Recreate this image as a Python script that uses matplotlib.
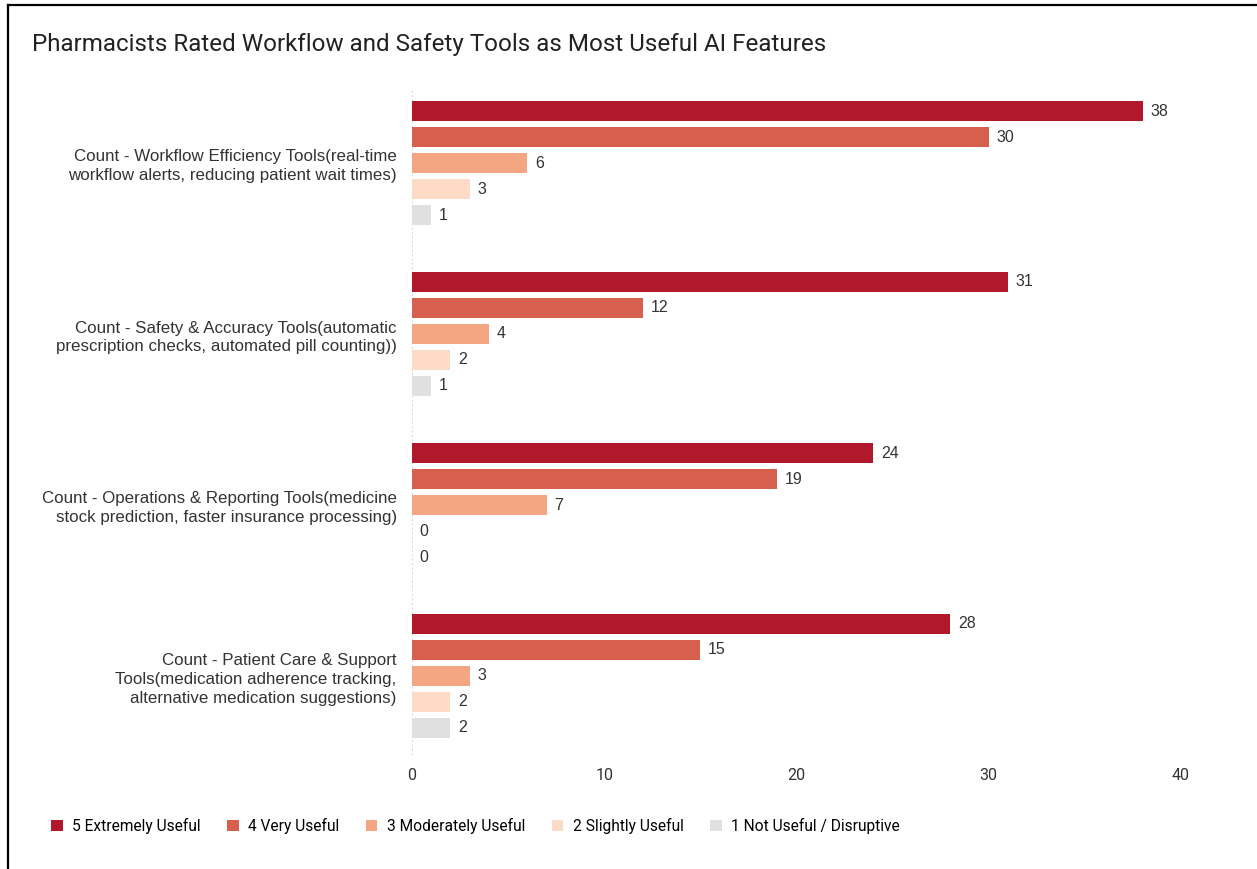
import numpy as np
import matplotlib.pyplot as plt
from matplotlib.patches import Patch
from matplotlib.lines import Line2D

categories = [
    "Count - Workflow Efficiency Tools(real-time\nworkflow alerts, reducing patient wait times)",
    "Count - Safety & Accuracy Tools(automatic\nprescription checks, automated pill counting))",
    "Count - Operations & Reporting Tools(medicine\nstock prediction, faster insurance processing)",
    "Count - Patient Care & Support\nTools(medication adherence tracking,\nalternative medication suggestions)",
]
series = ["5 Extremely Useful", "4 Very Useful", "3 Moderately Useful",
          "2 Slightly Useful", "1 Not Useful / Disruptive"]
extremely = [38, 31, 24, 28]
very = [30, 12, 19, 15]
moderately = [6, 4, 7, 3]
slightly = [3, 2, 0, 2]
not_useful = [1, 1, 0, 2]
values = [extremely, very, moderately, slightly, not_useful]
colors = ["#B2182B", "#D6604D", "#F4A582", "#FDDBC7", "#E0E0E0"]

W, H = 1257, 869
fig = plt.figure(figsize=(W / 100, H / 100), dpi=100)
ax = fig.add_axes([412 / W, 1 - 755 / H, (1181 - 412) / W, (755 - 90) / H])

group_gap = 171 / 26
for k, vals in enumerate(values):
    ys = np.arange(len(categories)) * group_gap + k
    ax.barh(ys, vals, height=20 / 26, color=colors[k], zorder=2)
    for y, v in zip(ys, vals):
        ax.text(v + 0.4, y, str(v), va="center", ha="left",
                fontsize=11.5, color="#333333", family="Liberation Sans")

centers = np.arange(len(categories)) * group_gap + 2
ax.set_yticks(centers)
ax.set_yticklabels(categories, family="Liberation Sans", fontsize=12.2,
                   color="#333333", linespacing=1.32)
ax.set_ylim(centers[-1] + 2 + 27 / 26, -21 / 26)
ax.set_xlim(0, 40)
ax.set_xticks([0, 10, 20, 30, 40])
ax.tick_params(axis="both", length=0)
ax.tick_params(axis="y", pad=11)
ax.tick_params(axis="x", pad=9, labelsize=11.5, labelcolor="#333333")
for lab in ax.get_xticklabels():
    lab.set_family("Roboto")
for s in ax.spines.values():
    s.set_visible(False)
ax.axvline(0, color="#c8c8c8", linestyle=":", linewidth=1.2, zorder=1)

fig.text(32 / W, 1 - 45 / H, "Pharmacists Rated Workflow and Safety Tools as Most Useful AI Features",
         fontsize=17.4, family="Roboto", color="#222222", va="center", ha="left")

handles = [Patch(facecolor=c, edgecolor="none") for c in colors]
fig.legend(handles, series, loc="center left", bbox_to_anchor=(37 / W, 1 - 826 / H),
           ncol=5, frameon=False, handlelength=0.75, handleheight=0.75,
           handletextpad=0.6, columnspacing=1.7,
           prop={"family": "Roboto", "size": 11.2})

# frame lines of the screenshot
fig.add_artist(Line2D([7.5 / W, 1], [1 - 5 / H, 1 - 5 / H], color="black", linewidth=1.6))
fig.add_artist(Line2D([7.5 / W, 7.5 / W], [0, 1 - 5 / H], color="black", linewidth=1.6))

fig.savefig("out.png", dpi=100)
